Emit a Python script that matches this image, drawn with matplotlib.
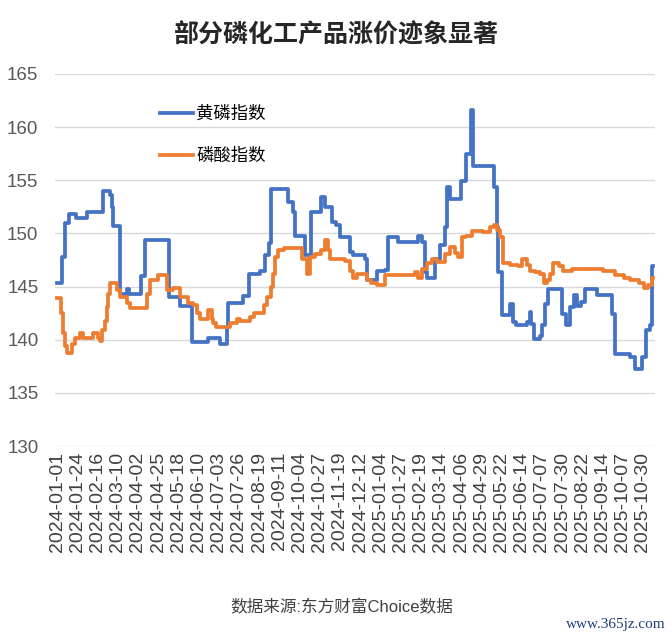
import matplotlib
matplotlib.use("Agg")
import matplotlib.pyplot as plt

plt.rcParams['font.family'] = ['Liberation Sans', 'Noto Sans CJK SC', 'DejaVu Sans']

# 横轴标签（每 23 个数据点一个）
tick_labels = ['2024-01-01', '2024-01-24', '2024-02-16', '2024-03-10', '2024-04-02',
               '2024-04-25', '2024-05-18', '2024-06-10', '2024-07-03', '2024-07-26',
               '2024-08-19', '2024-09-11', '2024-10-04', '2024-10-27', '2024-11-19',
               '2024-12-12', '2025-01-04', '2025-01-27', '2025-02-19', '2025-03-14',
               '2025-04-06', '2025-04-29', '2025-05-22', '2025-06-14', '2025-07-07',
               '2025-07-30', '2025-08-22', '2025-09-14', '2025-10-07', '2025-10-30']
tick_step = 23

# 黄磷指数 (数据点序号, 数值)
yp_idx = [0, 5, 9, 13, 22, 34, 52, 60, 63, 64, 72, 79, 82, 96, 100, 127, 140, 154,
          172, 185, 193, 195, 212, 218, 231, 237, 241, 244, 263, 269, 271, 282, 289,
          301, 305, 313, 317, 322, 334, 337, 351, 353, 364, 373, 377, 388, 411, 415,
          419, 421, 430, 436, 442, 444, 447, 460, 466, 471, 473, 497, 501, 502, 507,
          516, 519, 523, 535, 538, 540, 543, 550, 552, 556, 559, 575, 580, 584, 588,
          592, 597, 601, 615, 632, 635, 652, 658, 666, 671, 675, 677, 678]
yp_val = [145.35, 147.8, 151.0, 151.8, 151.5, 152.0, 154.0, 153.6, 152.5, 150.7,
          144.35, 144.8, 144.3, 146.0, 149.4, 144.0, 143.2, 139.8, 140.2, 139.6,
          141.2, 143.5, 144.1, 146.2, 146.5, 148.0, 149.1, 154.2, 153.0, 152.0,
          149.8, 148.0, 152.0, 153.4, 152.5, 151.1, 150.8, 149.7, 148.3, 148.0,
          147.6, 145.6, 146.5, 146.6, 149.7, 149.2, 149.8, 149.2, 146.4, 145.8,
          147.6, 148.9, 150.6, 154.4, 153.2, 154.9, 157.5, 161.6, 156.3, 154.4,
          150.6, 146.4, 142.3, 143.4, 141.7, 141.4, 141.7, 142.6, 141.5, 140.1,
          140.4, 141.4, 143.4, 144.8, 142.4, 141.4, 143.1, 144.2, 143.2, 143.6,
          144.8, 144.2, 142.4, 138.7, 138.4, 137.3, 138.4, 140.9, 141.4, 146.9, 146.9]

# 磷酸指数 (数据点序号, 数值)
ls_idx = [0, 4, 7, 9, 11, 17, 20, 26, 30, 41, 47, 49, 51, 55, 57, 58, 60, 68, 72, 79,
          83, 102, 106, 115, 125, 132, 140, 149, 155, 159, 163, 172, 176, 178, 181,
          197, 205, 208, 220, 224, 235, 239, 243, 246, 248, 252, 258, 279, 284, 288,
          294, 301, 305, 309, 311, 328, 334, 337, 341, 353, 357, 364, 373, 408, 411,
          415, 421, 427, 432, 442, 447, 453, 457, 461, 466, 472, 485, 493, 497, 501,
          504, 508, 516, 525, 529, 535, 539, 544, 550, 554, 558, 561, 565, 571, 576,
          586, 622, 628, 635, 645, 652, 662, 668, 673, 677, 678]
ls_val = [143.9, 142.5, 140.6, 139.4, 138.8, 139.6, 140.2, 140.6, 140.2, 140.6,
          140.2, 139.9, 140.9, 141.8, 143.1, 144.35, 145.3, 144.7, 144.0, 143.5,
          143.0, 144.35, 145.6, 146.1, 144.7, 144.9, 144.0, 143.5, 143.3, 142.5,
          142.0, 142.8, 142.0, 141.6, 141.2, 141.6, 142.0, 141.8, 142.1, 142.5,
          143.3, 144.0, 145.0, 146.2, 147.8, 148.4, 148.6, 147.6, 146.2, 147.8,
          148.1, 148.4, 149.4, 148.4, 147.6, 147.4, 146.5, 145.8, 146.2, 145.6,
          145.3, 145.2, 146.1, 146.4, 145.8, 146.7, 147.2, 147.6, 147.3, 148.1,
          148.7, 148.2, 147.8, 149.7, 149.8, 150.2, 150.1, 150.6, 150.8, 150.3,
          149.7, 147.2, 147.0, 146.9, 147.6, 147.0, 146.5, 146.4, 146.2, 145.3,
          145.6, 146.2, 147.2, 146.9, 146.5, 146.7, 146.5, 146.5, 146.1, 145.8,
          145.6, 145.3, 144.9, 145.2, 145.8, 145.8]

fig = plt.figure(figsize=(6.72, 6.41), dpi=100)
ax = fig.add_axes([0.082, 0.304, 0.893, 0.5806])

ax.plot(yp_idx, yp_val, drawstyle='steps-post', color='#4472c4', lw=2.7, label='黄磷指数')
ax.plot(ls_idx, ls_val, drawstyle='steps-post', color='#ed7d31', lw=2.7, label='磷酸指数')

ax.set_ylim(130, 165)
ax.set_yticks(range(130, 166, 5))
ax.set_xlim(-2.3, 681)
ax.set_xticks([i * tick_step for i in range(len(tick_labels))])
ax.set_xticklabels(tick_labels, rotation=90, fontsize=14, color='#404040')
ax.tick_params(axis='y', labelsize=13.5, labelcolor='#595959', length=0, pad=12)
ax.tick_params(axis='x', length=0, pad=4)

ax.grid(axis='y', color='#d9d9d9', lw=1)
ax.set_axisbelow(True)
for s in ax.spines.values():
    s.set_visible(False)

ax.legend(loc='upper left', bbox_to_anchor=(0.238, 0.835), bbox_transform=fig.transFigure,
          frameon=False, fontsize=12.5, handlelength=1.9, handletextpad=0.2,
          labelspacing=1.5, borderpad=0, borderaxespad=0)

fig.text(0.5, 0.945, '部分磷化工产品涨价迹象显著', ha='center', va='center',
         fontsize=18, fontweight='bold', color='#262626')
fig.text(0.508, 0.053, '数据来源:东方财富Choice数据', ha='center', va='center',
         fontsize=12, color='#404040')
fig.text(0.99, 0.025, 'www.365jz.com', ha='right', va='center', fontsize=11,
         family='Liberation Serif', color='#1f3f7a')

fig.savefig('out.png', dpi=100)
